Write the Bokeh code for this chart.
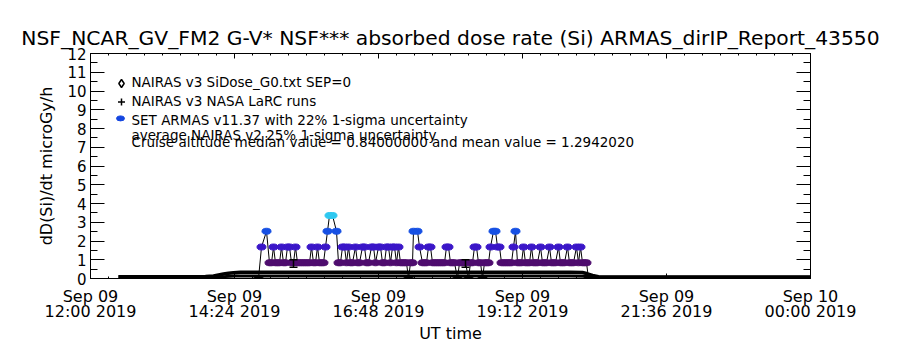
from bokeh.plotting import figure
from bokeh.models import FixedTicker, LinearAxis, Range1d, Label, ColumnDataSource
from bokeh.core.properties import value
from bokeh.embed import file_html
from bokeh.resources import INLINE

FONT = "DejaVu Sans"

# ---------------- data (x = minutes after 2019-09-09 12:00 UT) ----------------
armas_min = [168, 171, 176, 179, 181, 183, 185, 187, 189, 191, 193, 195, 197, 199,
             201, 203, 205, 207, 209, 211, 213, 215, 217, 219, 221, 223, 225, 227,
             229, 231, 233, 235, 237, 239, 242, 246, 248, 250, 252, 254, 256, 258,
             260, 262, 265, 267, 269, 272, 274, 276, 278, 281, 283, 285, 288, 290,
             292, 294, 296, 298, 300, 302, 304, 306, 308, 310, 312, 314, 316, 318,
             320, 322, 323, 327, 329, 332, 334, 336, 338, 340, 342, 344, 346, 348,
             350, 352, 354, 356, 358, 360, 362, 364, 367, 369, 371, 373, 375, 378,
             380, 382, 384, 386, 388, 390, 392, 394, 396, 398, 400, 403, 405, 407,
             409, 411, 413, 415, 417, 419, 421, 423, 425, 427, 429, 431, 433, 435,
             437, 439, 441, 443, 445, 447, 450, 452, 454, 456, 459, 461, 463, 465,
             468, 470, 472, 474, 477, 479, 481, 483, 486, 488, 490, 492, 494, 496, 498]
armas_dose = [0.0, 1.68, 2.52, 0.84, 0.84, 1.68, 0.84, 0.84, 0.84, 1.68, 0.84, 0.84, 1.68, 1.68,
              0.84, 0.84, 1.68, 0.84, 0.84, 0.84, 0.84, 0.84, 0.84, 0.84, 1.68, 0.84, 0.84, 1.68,
              0.84, 0.84, 0.84, 1.68, 2.52, 3.36, 3.36, 2.52, 0.84, 0.84, 1.68, 1.68, 0.84, 1.68,
              0.84, 0.84, 1.68, 0.84, 0.84, 1.68, 1.68, 0.84, 0.84, 1.68, 1.68, 0.84, 1.68, 1.68,
              0.84, 0.84, 1.68, 1.68, 0.84, 1.68, 1.68, 0.84, 1.68, 0.84, 0.84, 0.84, 0.84, 0.0,
              0.84, 0.84, 2.52, 2.52, 1.68, 0.84, 0.84, 0.84, 1.68, 1.68, 0.84, 0.84, 0.84, 0.84,
              0.84, 0.84, 0.84, 1.68, 1.68, 0.84, 0.84, 0.84, 0.0, 0.84, 0.84, 0.84, 0.84, 0.0,
              0.84, 0.84, 1.68, 1.68, 0.84, 0.84, 0.0, 0.84, 0.84, 0.84, 1.68, 2.52, 2.52, 1.68,
              1.68, 0.84, 0.84, 0.84, 0.84, 0.84, 0.84, 1.68, 2.52, 0.84, 0.84, 0.84, 1.68, 0.84,
              0.84, 0.84, 1.68, 0.84, 0.84, 0.84, 1.68, 0.84, 0.84, 0.84, 1.68, 0.84, 0.84, 0.84,
              1.68, 0.84, 0.84, 0.84, 1.68, 0.84, 0.84, 0.84, 1.68, 0.84, 1.68, 0.84, 0.84, 0.84, 0.0]

sidose_min = [28, 60, 90, 115, 123, 128, 133, 138, 143, 150, 180, 210, 240, 270, 300,
              330, 360, 390, 420, 450, 480, 492, 497, 502, 508, 520, 560, 600, 660, 720]
sidose_val = [0.10, 0.10, 0.10, 0.11, 0.14, 0.19, 0.24, 0.28, 0.31, 0.33, 0.34, 0.34, 0.33, 0.34, 0.34,
              0.33, 0.33, 0.34, 0.34, 0.33, 0.33, 0.32, 0.25, 0.16, 0.09, 0.08, 0.08, 0.08, 0.08, 0.08]

larc_min = [28, 60, 90, 115, 125, 135, 145, 180, 240, 300, 360, 420, 480, 495, 505, 520, 600, 720]
larc_val = [0.09, 0.09, 0.09, 0.09, 0.10, 0.11, 0.13, 0.13, 0.13, 0.13, 0.13, 0.13, 0.13, 0.12,
            0.08, 0.07, 0.07, 0.07]

nairas_v2_min = [203, 375]
nairas_v2_mean = [0.80, 0.80]
nairas_v2_err = [0.20, 0.20]

x_ticks = [0, 144, 288, 432, 576, 720]
x_tick_dates = ["Sep 09", "Sep 09", "Sep 09", "Sep 09", "Sep 09", "Sep 10"]
x_tick_times = ["12:00 2019", "14:24 2019", "16:48 2019", "19:12 2019", "21:36 2019", "00:00 2019"]
y_ticks = [0, 1, 2, 3, 4, 5, 6, 7, 8, 9, 10, 11, 12]

title_text = "NSF_NCAR_GV_FM2 G-V* NSF*** absorbed dose rate (Si) ARMAS_dirIP_Report_43550"
legend_lines = ["NAIRAS v3 SiDose_G0.txt SEP=0",
                "NAIRAS v3 NASA LaRC runs",
                "SET ARMAS v11.37 with 22% 1-sigma uncertainty",
                "average NAIRAS v2 25% 1-sigma uncertainty",
                "Cruise altitude median value = 0.84000000 and mean value = 1.2942020"]

level_color = {0.0: "#000000", 0.84: "#4e0c6e", 1.68: "#3a16c8", 2.52: "#1650e4", 3.36: "#2ec8f0"}

# ---------------- figure ----------------
p = figure(width=900, height=350, x_range=Range1d(0, 720), y_range=Range1d(0, 12),
           output_backend="svg", toolbar_location=None,
           min_border_left=90, min_border_right=90, min_border_top=53, min_border_bottom=72)
p.background_fill_color = "white"
p.border_fill_color = "white"
p.outline_line_color = "black"
p.xgrid.visible = False
p.ygrid.visible = False

p.title.text = title_text
p.title.align = "center"
p.title.text_font = FONT
p.title.text_font_size = "20.3px"
p.title.text_font_style = "normal"
p.title.text_color = "black"
p.title.standoff = 7

xminor = [m for m in range(0, 721, 18) if m not in x_ticks]
yminor = [v + 0.5 for v in y_ticks[:-1]]


def style_axis(ax, tin, mtin):
    ax.axis_line_color = "black"
    ax.major_tick_line_color = "black"
    ax.minor_tick_line_color = "black"
    ax.major_tick_in = tin
    ax.major_tick_out = 0
    ax.minor_tick_in = mtin
    ax.minor_tick_out = 0
    ax.major_label_text_font = FONT
    ax.major_label_text_color = "black"
    ax.axis_label_text_font = FONT
    ax.axis_label_text_font_style = "normal"
    ax.axis_label_text_color = "black"
    ax.axis_label_text_font_size = "16px"


xax = p.below[0]
xax.ticker = FixedTicker(ticks=x_ticks, minor_ticks=xminor)
xax.major_label_overrides = {t: l for t, l in zip(x_ticks, x_tick_dates)}
style_axis(xax, 5, 2)
xax.major_label_text_font_size = "16px"
xax.major_label_standoff = 8

# second row of x tick labels (time + year)
xax2 = LinearAxis(ticker=FixedTicker(ticks=x_ticks),
                  major_label_overrides={t: l for t, l in zip(x_ticks, x_tick_times)})
style_axis(xax2, 0, 0)
xax2.axis_line_color = None
xax2.major_tick_line_color = None
xax2.minor_tick_line_color = None
xax2.major_label_text_font_size = "16px"
xax2.major_label_standoff = -7
xax2.axis_label = "UT time"
xax2.axis_label_standoff = 0
p.add_layout(xax2, "below")

yax = p.left[0]
yax.ticker = FixedTicker(ticks=y_ticks, minor_ticks=yminor)
yax.axis_label = "dD(Si)/dt microGy/h"
style_axis(yax, 14, 7)
yax.major_label_text_font_size = "15px"
yax.major_label_standoff = 4
yax.axis_label_standoff = 8

top = LinearAxis(ticker=FixedTicker(ticks=x_ticks, minor_ticks=xminor))
style_axis(top, 5, 2)
top.major_label_text_font_size = "1px"
top.major_label_text_color = None
top.major_label_standoff = 0
p.add_layout(top, "above")

right = LinearAxis(ticker=FixedTicker(ticks=y_ticks, minor_ticks=yminor))
style_axis(right, 14, 7)
right.major_label_text_font_size = "1px"
right.major_label_text_color = None
right.major_label_standoff = 0
p.add_layout(right, "right")

# NAIRAS v3 model curves
p.line(sidose_min, sidose_val, line_color="black", line_width=3.5)
p.line(larc_min, larc_val, line_color="black", line_width=3)

# ARMAS measurement
src = ColumnDataSource(dict(x=armas_min, y=armas_dose, c=[level_color[v] for v in armas_dose]))
p.line("x", "y", source=src, line_color="black", line_width=1)
p.ellipse("x", "y", source=src, width=9, height=6, width_units="screen", height_units="screen",
          fill_color="c", line_color="c")

# NAIRAS v2 average with uncertainty
lo = [m - e for m, e in zip(nairas_v2_mean, nairas_v2_err)]
hi = [m + e for m, e in zip(nairas_v2_mean, nairas_v2_err)]
p.segment(nairas_v2_min, lo, nairas_v2_min, hi, line_color="black", line_width=1.5)
p.segment([t - 4 for t in nairas_v2_min], lo, [t + 4 for t in nairas_v2_min], lo, line_color="black", line_width=1.5)
p.segment([t - 4 for t in nairas_v2_min], hi, [t + 4 for t in nairas_v2_min], hi, line_color="black", line_width=1.5)

# legend (drawn IDL style, inside the frame)
p.scatter([31], [10.40], marker="diamond", size=8, fill_color=None, line_color="black", line_width=1.5)
p.scatter([31], [9.42], marker="cross", size=7, line_color="black", line_width=1.5)
p.ellipse([30], [8.54], width=8, height=5, width_units="screen", height_units="screen",
          fill_color="#1446e0", line_color="#1446e0")
p.text([41] * 5, [10.46, 9.48, 8.45, 7.66, 7.30], text=legend_lines,
       text_font=value(FONT), text_font_size="13.5px", text_color="black", text_baseline="alphabetic")

p.add_layout(Label(x=720, y=2.17, x_offset=-1, text="SET", text_font=FONT, text_font_size="12px",
                   text_baseline="middle", text_color="black"))

open("out.html", "w").write(file_html(p, INLINE))
